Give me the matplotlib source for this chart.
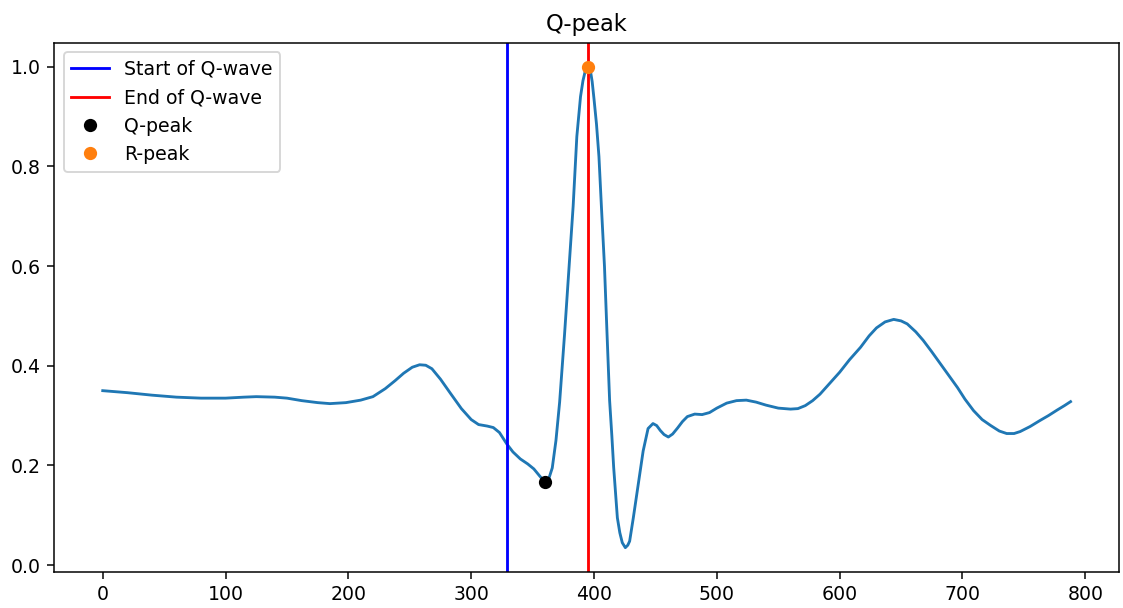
import matplotlib.pyplot as plt

# ECG beat samples (sample index, normalised amplitude)
sample_idx = [
    0, 20, 40, 60, 80, 100, 115, 125, 140, 150, 162, 175, 185, 198, 210,
    220, 230, 238, 245, 252, 258, 263, 268, 275, 283, 292, 300, 306, 313,
    318, 323, 329, 334, 340, 346, 351, 356, 360,
    363, 366, 369, 372, 376, 380, 383, 386, 389, 391, 393, 395,
    397, 398.5, 400, 402, 404, 406, 408.5, 410.5, 412.7, 414.5, 416, 419,
    421, 423, 425.5, 427.5, 429, 432, 436, 440, 444, 448, 451, 454, 457,
    460.5, 464, 468, 472, 476, 482, 488, 494, 500, 508, 516, 524, 532, 540,
    550, 560, 566, 572, 578, 584, 592, 600, 608, 617, 624, 630, 637, 644,
    650, 655, 662, 668, 675, 682, 689, 696, 702, 709, 716, 723, 730, 736,
    742, 747, 755, 763, 770, 777, 783, 788,
]
amplitude = [
    0.350, 0.346, 0.341, 0.337, 0.335, 0.335, 0.337, 0.338, 0.337, 0.335,
    0.330, 0.326, 0.324, 0.326, 0.331, 0.338, 0.354, 0.370, 0.385, 0.397,
    0.402, 0.401, 0.394, 0.373, 0.345, 0.314, 0.292, 0.282, 0.279, 0.276,
    0.266, 0.243, 0.227, 0.213, 0.203, 0.193, 0.178, 0.167,
    0.172, 0.195, 0.250, 0.327, 0.463, 0.610, 0.720, 0.860, 0.940, 0.972,
    0.993, 1.000,
    0.993, 0.970, 0.935, 0.885, 0.820, 0.720, 0.600, 0.470, 0.330, 0.260,
    0.196, 0.095, 0.065, 0.045, 0.035, 0.040, 0.048, 0.095, 0.162, 0.229,
    0.274, 0.284, 0.280, 0.270, 0.262, 0.257, 0.263, 0.275, 0.288, 0.298,
    0.303, 0.302, 0.306, 0.315, 0.325, 0.330, 0.331, 0.327, 0.321, 0.315,
    0.313, 0.314, 0.320, 0.330, 0.343, 0.365, 0.387, 0.412, 0.437, 0.460,
    0.476, 0.488, 0.493, 0.490, 0.484, 0.468, 0.451, 0.428, 0.404, 0.380,
    0.356, 0.333, 0.310, 0.292, 0.280, 0.269, 0.264, 0.264, 0.268, 0.278,
    0.290, 0.300, 0.311, 0.320, 0.328,
]

q_start = 329
q_end = 395
q_peak = (360, 0.167)
r_peak = (395, 1.0)

fig = plt.figure(figsize=(1123 / 136, 608 / 136), dpi=136)
ax = fig.add_axes([0.0484, 0.0597, 0.948, 0.8701])

ax.plot(sample_idx, amplitude)
ax.axvline(q_start, color="b", label="Start of Q-wave")
ax.axvline(q_end, color="r", label="End of Q-wave")
ax.plot(q_peak[0], q_peak[1], "o", color="black", label="Q-peak")
ax.plot(r_peak[0], r_peak[1], "o", color="C1", label="R-peak")

ax.set_title("Q-peak")
ax.legend(loc="upper left")

fig.savefig("out.png", dpi=136)
plt.close(fig)
